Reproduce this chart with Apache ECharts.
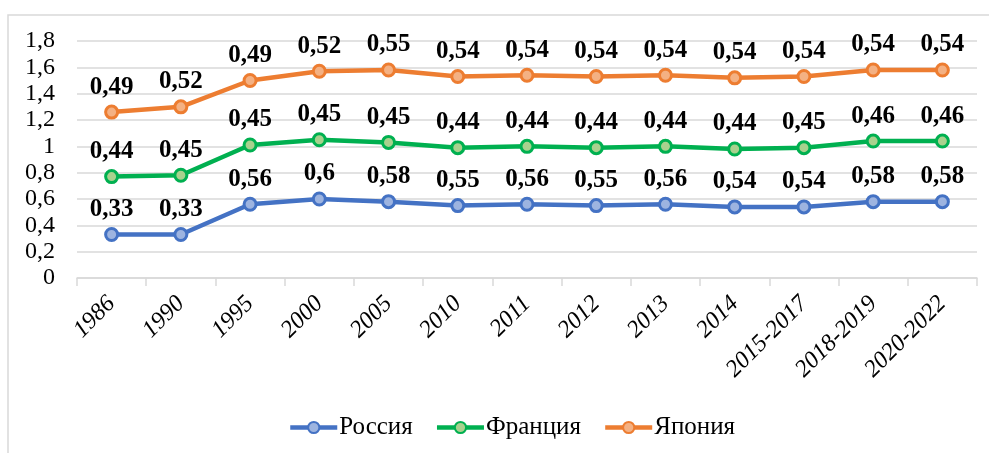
<!DOCTYPE html>
<html><head><meta charset="utf-8">
<script src="https://cdn.jsdelivr.net/npm/echarts@6/dist/echarts.min.js"></script>
<style>html,body{margin:0;padding:0;background:#fff}#c{width:989px;height:453px}</style>
</head><body><div id="c"></div>
<script>
const categories = ['1986','1990','1995','2000','2005','2010','2011','2012','2013','2014','2015-2017','2018-2019','2020-2022'];
const russia = [0.33,0.33,0.56,0.6,0.58,0.55,0.56,0.55,0.56,0.54,0.54,0.58,0.58];
const france = [0.44,0.45,0.45,0.45,0.45,0.44,0.44,0.44,0.44,0.44,0.45,0.46,0.46];
const japan = [0.49,0.52,0.49,0.52,0.55,0.54,0.54,0.54,0.54,0.54,0.54,0.54,0.54];
const yTicks = [0,0.2,0.4,0.6,0.8,1,1.2,1.4,1.6,1.8];

const chart = echarts.init(document.getElementById('c'));
const fmt = v => String(v).replace('.', ',');
function mk(name, data, color, fill){
  return {
    name, type:'line', stack:'total', data,
    lineStyle:{color, width:4.5},
    itemStyle:{color:fill, borderColor:color, borderWidth:3},
    symbol:'circle', symbolSize:12,
    label:{show:true, position:'top', distance:5, color:'#000', fontFamily:'Liberation Serif', fontWeight:'bold', fontSize:25,
      formatter:p=>fmt(p.value)},
    color
  };
}
chart.setOption({
  animation:false,
  graphic:[{type:'rect', shape:{x:8,y:15,width:990,height:450}, style:{fill:'none', stroke:'#d9d9d9', lineWidth:1.5}}],
  grid:{left:77, right:12, top:41, bottom:175},
  legend:{top:410, left:283, itemWidth:47, itemHeight:14, itemGap:22,
    lineStyle:{width:4.5},
    textStyle:{fontFamily:'Liberation Serif', fontSize:25, color:'#000', padding:[0,0,0,-3]},
    data:['Россия','Франция','Япония']},
  xAxis:{type:'category', data:categories, boundaryGap:true,
    axisLine:{lineStyle:{color:'#d9d9d9', width:1.5}},
    axisTick:{show:true, length:8, lineStyle:{color:'#d9d9d9', width:1.5}},
    axisLabel:{rotate:45, interval:0, margin:22, fontFamily:'Liberation Serif', fontStyle:'italic', fontSize:24, color:'#000'}},
  yAxis:{type:'value', min:0, max:1.8, interval:0.2,
    axisLine:{show:false}, axisTick:{show:false},
    splitLine:{lineStyle:{color:'#d9d9d9', width:1.5}},
    axisLabel:{margin:22, fontFamily:'Liberation Serif', fontSize:24, color:'#000',
      formatter:v=>{const t=yTicks.find(x=>Math.abs(x-v)<1e-6); return fmt(+(t!==undefined?t:v).toFixed(1));}}},
  series:[
    mk('Россия', russia, '#4472C4', '#9db4e0'),
    mk('Франция', france, '#00B050', '#a9d18e'),
    mk('Япония', japan, '#ED7D31', '#f4b183')
  ]
});
</script></body></html>
